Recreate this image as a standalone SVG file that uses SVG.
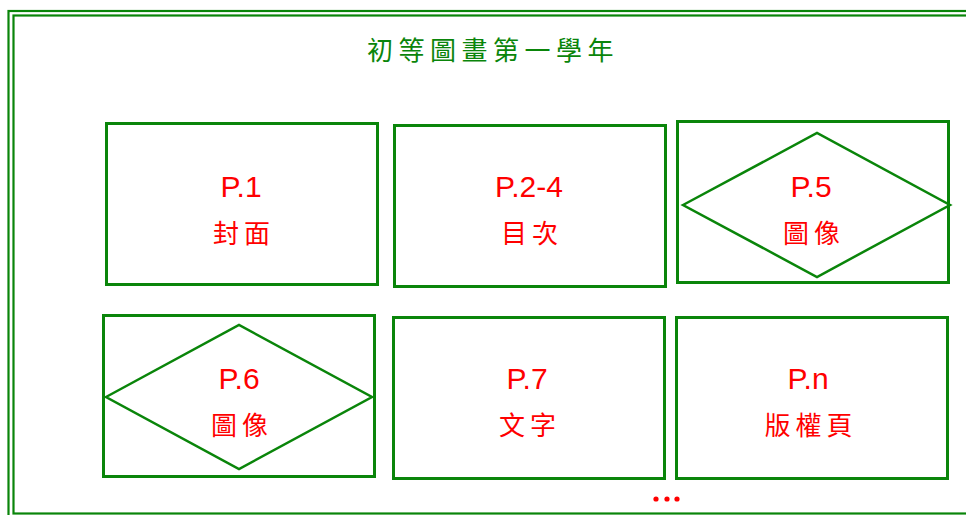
<svg xmlns="http://www.w3.org/2000/svg" width="966" height="515" viewBox="0 0 966 515">
<style>
.frame{fill:none;stroke:#0a850a;stroke-width:2.2}
.box{fill:#fff;stroke:#0a850a;stroke-width:3}
.dia{fill:none;stroke:#0a850a;stroke-width:2.5}
.pg{font-family:"Liberation Sans",Arial,sans-serif;font-size:30px;fill:#ff0000;text-anchor:middle}
.zh{font-family:"Noto Sans CJK TC","Noto Sans CJK SC",sans-serif;font-size:26px;fill:#ff0000;text-anchor:middle;letter-spacing:5px}
.title{font-family:"Noto Sans CJK TC","Noto Sans CJK SC",sans-serif;font-size:26px;fill:#0a850a;text-anchor:middle;letter-spacing:5.5px}
</style>
<rect width="966" height="515" fill="#fff"/>
<g id="frame">
<rect class="frame" x="8.5" y="11" width="980" height="510"/>
<rect class="frame" x="13.5" y="15.5" width="970" height="498"/>
<text class="title" x="493" y="60">初等圖畫第一學年</text>
</g>
<g id="p1">
<rect class="box" x="106.5" y="123.5" width="271" height="161"/>
<text class="pg" x="241" y="197">P.1</text>
<text class="zh" x="244" y="243">封面</text>
</g>
<g id="p2-4">
<rect class="box" x="394.5" y="125.5" width="271" height="161"/>
<text class="pg" x="529" y="197">P.2-4</text>
<text class="zh" x="532" y="243">目次</text>
</g>
<g id="p5">
<rect class="box" x="677.5" y="121.5" width="271" height="161"/>
<polygon class="dia" points="683,205 817,133 950,205 817,277"/>
<text class="pg" x="811" y="197">P.5</text>
<text class="zh" x="814" y="243">圖像</text>
</g>
<g id="p6">
<rect class="box" x="103.5" y="315.5" width="271" height="161"/>
<polygon class="dia" points="106,397 239,325 372,397 239,469"/>
<text class="pg" x="239" y="389">P.6</text>
<text class="zh" x="242" y="435">圖像</text>
</g>
<g id="p7">
<rect class="box" x="393.5" y="317.5" width="271" height="161"/>
<text class="pg" x="527" y="389">P.7</text>
<text class="zh" x="530" y="435">文字</text>
</g>
<g id="pn">
<rect class="box" x="676.5" y="317.5" width="271" height="161"/>
<text class="pg" x="808" y="389">P.n</text>
<text class="zh" x="811" y="435">版權頁</text>
</g>
<g id="more" fill="#ff0000">
<circle cx="656" cy="499" r="2.6"/>
<circle cx="667" cy="499" r="2.6"/>
<circle cx="677" cy="499" r="2.6"/>
</g>
</svg>
